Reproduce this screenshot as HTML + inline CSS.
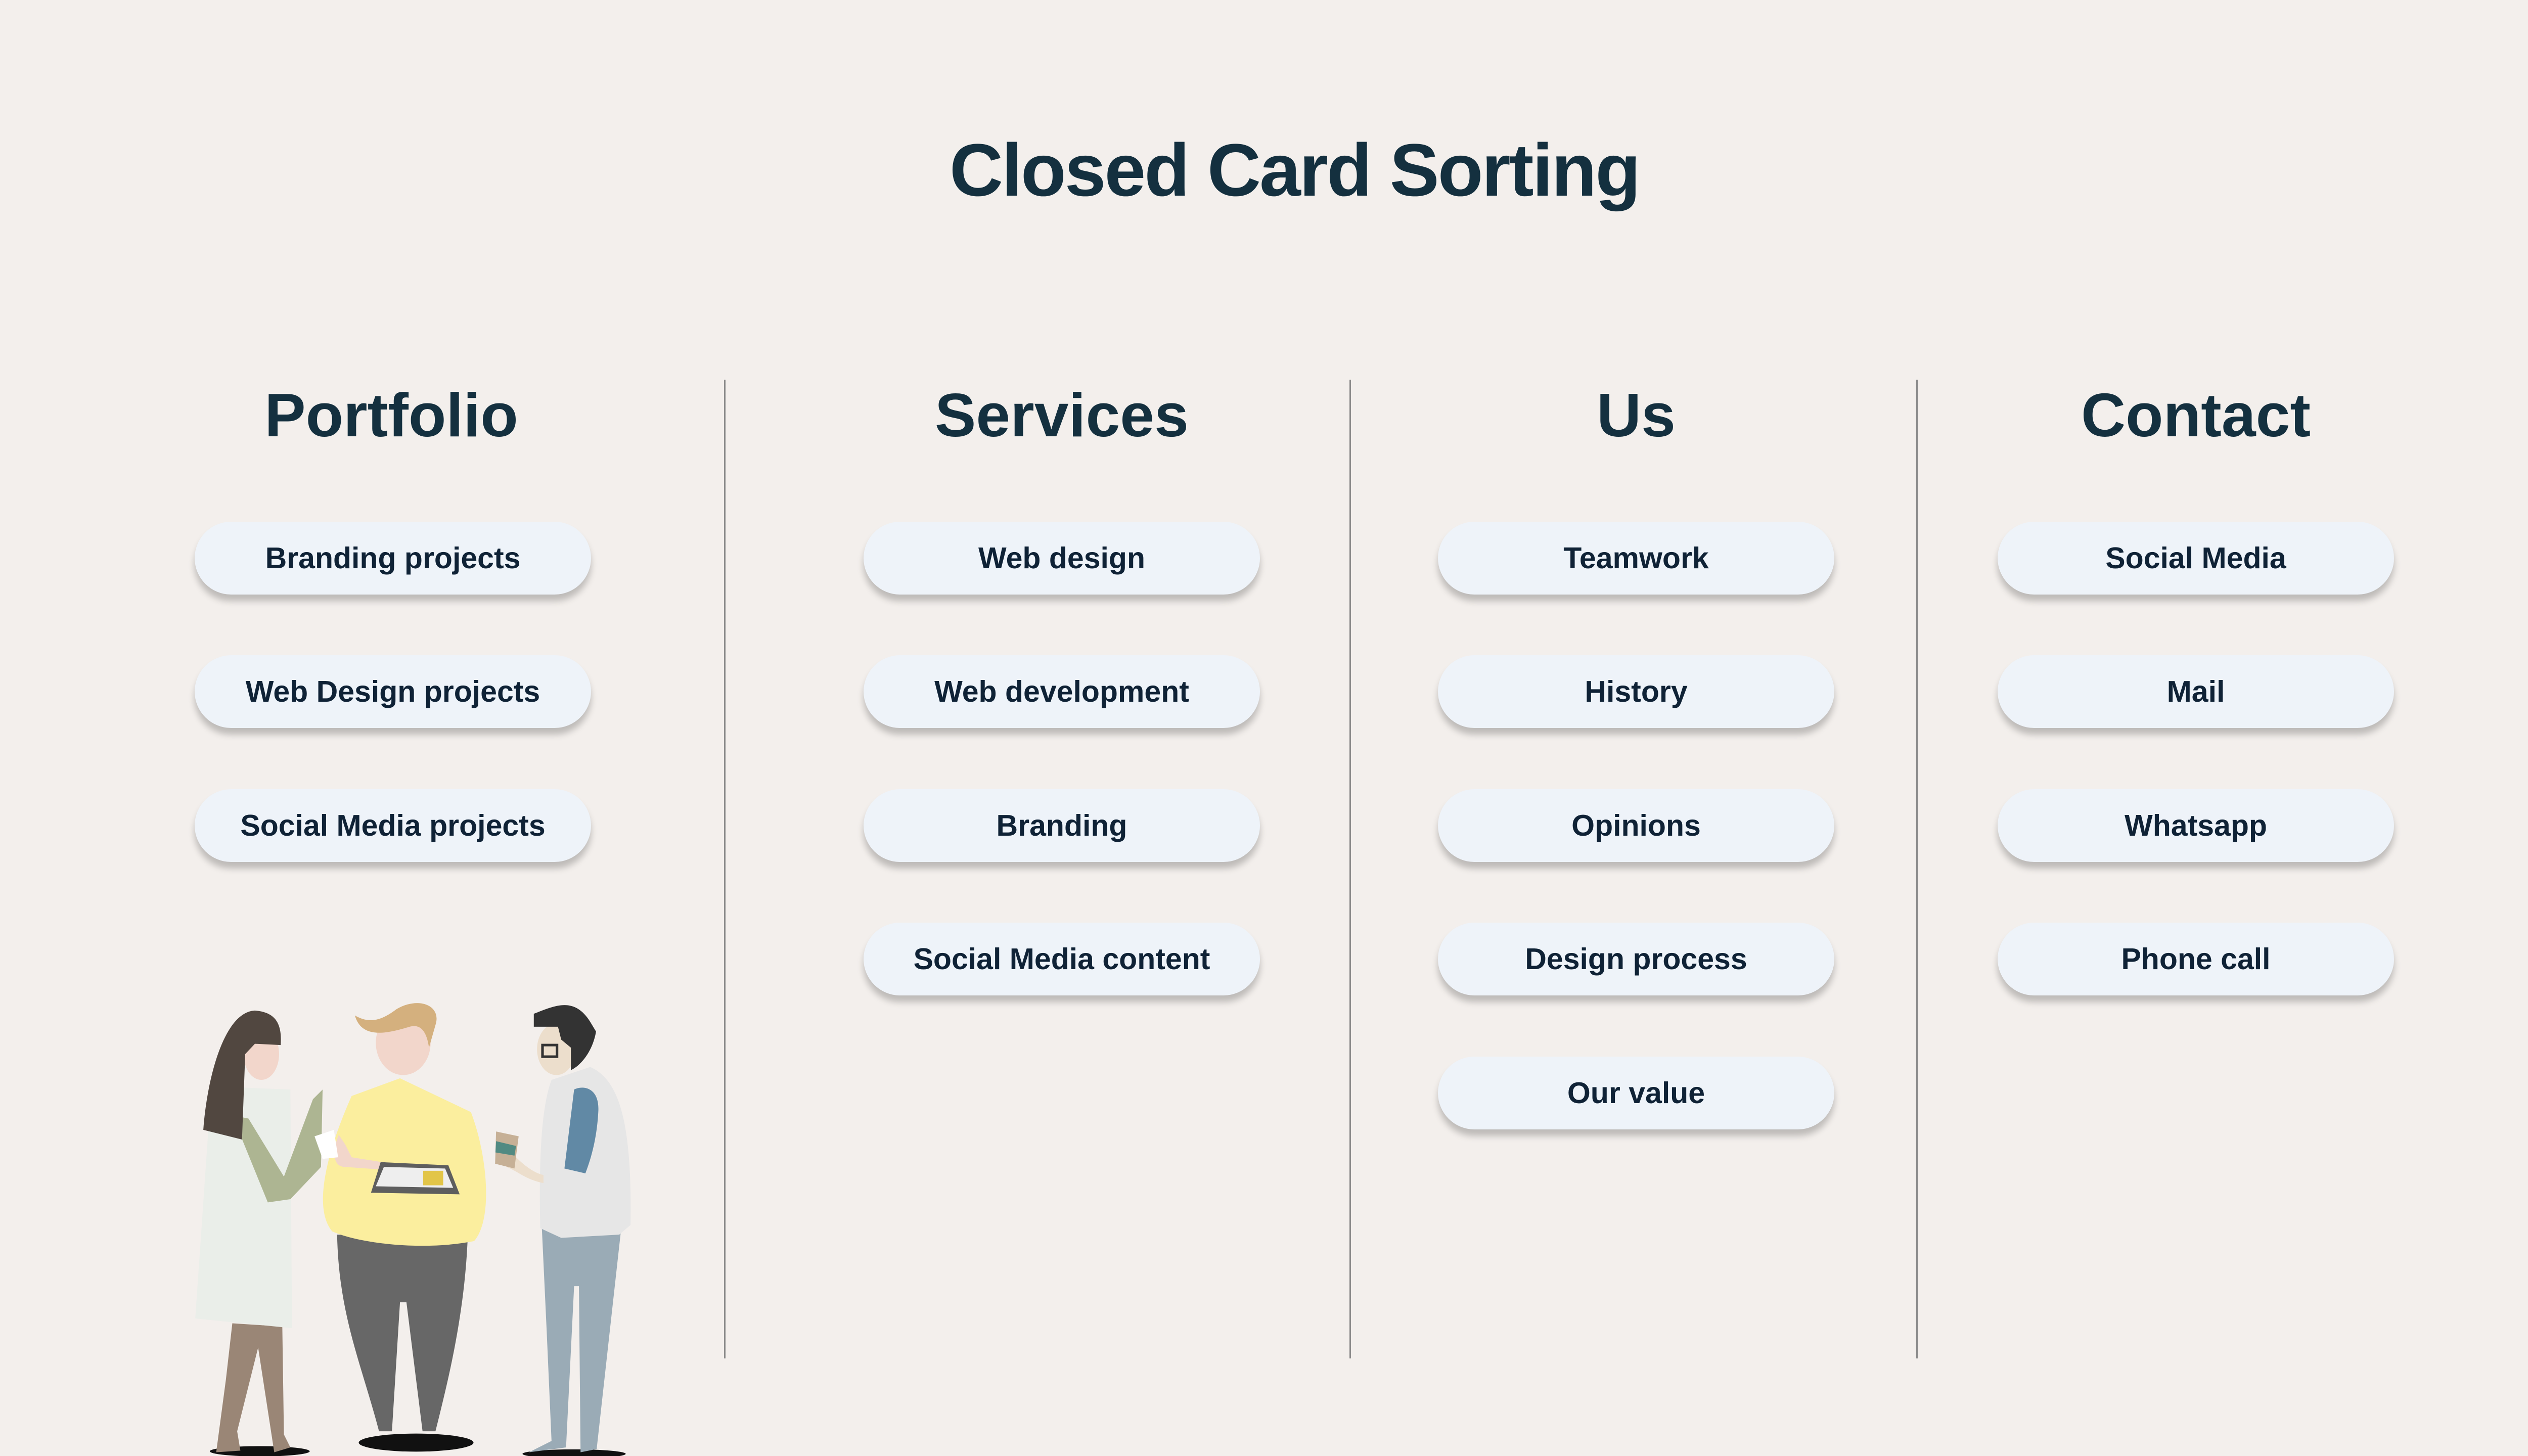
<!DOCTYPE html>
<html><head><meta charset="utf-8"><style>
html,body{margin:0;padding:0;background:#f3efec;width:5120px;height:2880px;overflow:hidden;}
#w{position:absolute;left:0;top:0;width:5120px;height:2880px;overflow:hidden;font-family:"Liberation Sans",sans-serif;color:#14303f;}
.t{position:absolute;left:0;width:5120px;text-align:center;top:252px;font-size:147px;line-height:170px;font-weight:bold;letter-spacing:-3px;}
.h{position:absolute;width:1300px;margin-left:-650px;text-align:center;top:751px;font-size:122px;line-height:140px;font-weight:bold;}
.d{position:absolute;top:751px;width:3px;height:1936px;background:#8a8a8a;}
.p{position:absolute;width:784px;height:144px;margin-left:-392px;border-radius:72px;background:#eef3f9;box-shadow:0 13px 13px rgba(0,0,0,0.22);text-align:center;line-height:144px;font-size:59px;font-weight:bold;color:#0f2236;}
</style></head><body><div id="w">
<div class="t">Closed Card Sorting</div>
<div class="h" style="left:774px">Portfolio</div>
<div class="h" style="left:2100px">Services</div>
<div class="h" style="left:3236px">Us</div>
<div class="h" style="left:4343px">Contact</div>
<div class="d" style="left:1432px"></div>
<div class="d" style="left:2669px"></div>
<div class="d" style="left:3790px"></div>

<div class="p" style="left:777px;top:1032px">Branding projects</div>
<div class="p" style="left:777px;top:1296px">Web Design projects</div>
<div class="p" style="left:777px;top:1561px">Social Media projects</div>

<div class="p" style="left:2100px;top:1032px">Web design</div>
<div class="p" style="left:2100px;top:1296px">Web development</div>
<div class="p" style="left:2100px;top:1561px">Branding</div>
<div class="p" style="left:2100px;top:1825px">Social Media content</div>

<div class="p" style="left:3236px;top:1032px">Teamwork</div>
<div class="p" style="left:3236px;top:1296px">History</div>
<div class="p" style="left:3236px;top:1561px">Opinions</div>
<div class="p" style="left:3236px;top:1825px">Design process</div>
<div class="p" style="left:3236px;top:2090px">Our value</div>

<div class="p" style="left:4343px;top:1032px">Social Media</div>
<div class="p" style="left:4343px;top:1296px">Mail</div>
<div class="p" style="left:4343px;top:1561px">Whatsapp</div>
<div class="p" style="left:4343px;top:1825px">Phone call</div>

<svg style="position:absolute;left:0;top:0" width="5120" height="2880" viewBox="0 0 1568 882">
<g transform="translate(91.9,581.9) scale(0.1953)">
<ellipse cx="335" cy="1522" rx="155" ry="16" fill="#111"/>
<path d="M250,1125 L405,1135 L410,1470 L430,1510 L380,1525 L330,1200 L265,1460 L275,1520 L200,1525 L230,1300 Z" fill="#9a8676"/>
<path d="M185,390 L430,400 L435,1140 L135,1110 Z" fill="#eaeee9"/>
<path d="M250,480 L300,490 L410,670 L500,430 L530,400 L525,640 L430,740 L360,750 Z" fill="#adb592"/>
<ellipse cx="340" cy="290" rx="55" ry="80" fill="#f2d6cb"/>
<path d="M320,155 C380,160 405,190 400,262 L320,258 L290,290 L280,555 L160,525 C170,380 220,160 320,155 Z" fill="#514740"/>
<ellipse cx="820" cy="1495" rx="178" ry="28" fill="#111"/>
<path d="M575,850 L980,860 C970,1100 920,1300 880,1460 L840,1460 L790,1060 L770,1060 L745,1460 L705,1460 C650,1250 580,1100 575,850 Z" fill="#676767"/>
<path d="M620,420 L770,365 L990,470 C1040,600 1060,800 1000,870 C850,900 650,880 560,840 C500,770 540,600 620,420 Z" fill="#fbee9e"/>
<ellipse cx="780" cy="255" rx="85" ry="100" fill="#f2d6cb"/>
<path d="M630,170 C680,200 720,180 760,150 C830,110 900,140 880,200 L860,270 C850,200 820,200 800,205 C720,230 650,240 630,170 Z" fill="#d4b07e"/>
<path d="M580,540 C560,590 560,640 600,640 L740,650 L745,630 L620,610 L600,570 Z" fill="#f2d6cb"/>
<path d="M710,625 L920,635 L955,725 L680,720 Z" fill="#5e5e5e"/>
<path d="M720,640 L910,645 L935,705 L695,700 Z" fill="#eeeeee"/>
<rect x="842" y="652" width="62" height="45" fill="#e2c548"/>
<path d="M505,545 L565,525 L578,610 L530,615 Z" fill="#fff"/>
<ellipse cx="1310" cy="1530" rx="160" ry="14" fill="#111"/>
<path d="M1210,830 L1455,840 L1380,1515 L1330,1525 L1325,1010 L1310,1010 L1285,1510 L1170,1525 L1240,1490 L1225,1150 Z" fill="#9aabb6"/>
<path d="M1240,370 L1360,330 C1450,370 1490,500 1485,820 L1450,850 L1270,860 L1205,830 C1200,600 1210,450 1240,370 Z" fill="#e6e6e6"/>
<path d="M1310,400 C1340,385 1390,395 1385,470 C1380,560 1360,620 1345,660 L1280,645 Z" fill="#6189a5"/>
<path d="M1100,590 L1130,610 C1160,640 1190,660 1215,665 L1215,690 C1160,680 1130,650 1100,640 Z" fill="#ecdecc"/>
<path d="M1068,530 L1138,545 L1125,645 L1065,630 Z" fill="#c6b096"/>
<path d="M1068,560 L1130,575 L1125,605 L1066,595 Z" fill="#518a82"/>
<ellipse cx="1255" cy="275" rx="60" ry="80" fill="#ecdecc"/>
<path d="M1185,165 C1250,140 1310,110 1360,190 L1378,220 C1370,270 1340,320 1300,340 L1300,270 L1270,245 L1260,205 L1185,205 Z" fill="#333"/>
<rect x="1212" y="262" width="45" height="36" fill="none" stroke="#333" stroke-width="8"/>
</g>
</svg>
</div></body></html>
